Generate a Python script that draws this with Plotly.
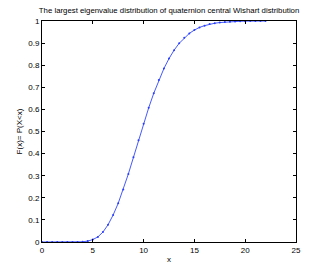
import plotly.graph_objects as go

x_vals = [i * 0.5 for i in range(45)]
f_vals = [0, 0, 0, 0, 0, 0, 0, 0.0002, 0.001, 0.004, 0.011, 0.023, 0.045, 0.078, 0.122,
          0.175, 0.238, 0.308, 0.383, 0.46, 0.535, 0.607, 0.673, 0.733, 0.785, 0.83,
          0.868, 0.899, 0.924, 0.944, 0.959, 0.971, 0.979, 0.986, 0.99, 0.993, 0.995,
          0.997, 0.998, 0.9988, 0.9993, 0.9996, 0.9998, 0.9999, 1.0]
x_ticks = [0, 5, 10, 15, 20, 25]
y_ticks = [0, 0.1, 0.2, 0.3, 0.4, 0.5, 0.6, 0.7, 0.8, 0.9, 1]
y_tick_text = ["0", "0.1", "0.2", "0.3", "0.4", "0.5", "0.6", "0.7", "0.8", "0.9", "1"]

fig = go.Figure()
fig.add_trace(go.Scatter(
    x=x_vals, y=f_vals, mode="lines+markers",
    line=dict(color="rgb(70,90,255)", width=1),
    marker=dict(color="rgb(40,60,255)", size=2),
    showlegend=False,
))

axis_common = dict(
    showgrid=False, zeroline=False, showline=True, linecolor="black", linewidth=1,
    mirror="ticks", ticks="inside", ticklen=3, tickcolor="black",
    tickfont=dict(family="Liberation Sans, Arial", size=8, color="black"),
)
fig.update_xaxes(range=[0, 25], tickvals=x_ticks, title=dict(text="x", standoff=2,
                 font=dict(family="Liberation Sans, Arial", size=8, color="black")), **axis_common)
fig.update_yaxes(range=[0, 1], tickvals=y_ticks, ticktext=y_tick_text,
                 title=dict(text="F(x)= P(X&lt;x)", standoff=4,
                            font=dict(family="Liberation Sans, Arial", size=8, color="black")),
                 **axis_common)
fig.update_layout(
    width=327, height=273,
    margin=dict(l=42, r=31, t=21, b=31),
    paper_bgcolor="white", plot_bgcolor="white",
    title=dict(text="The largest eigenvalue distribution of quaternion central Wishart distribution",
               x=0.517, xanchor="center", y=0.963, yanchor="middle",
               font=dict(family="Liberation Sans, Arial", size=7.8, color="black")),
)
fig.write_html("out.html", config={"displayModeBar": False},
               post_script="document.body.style.margin='0';")
